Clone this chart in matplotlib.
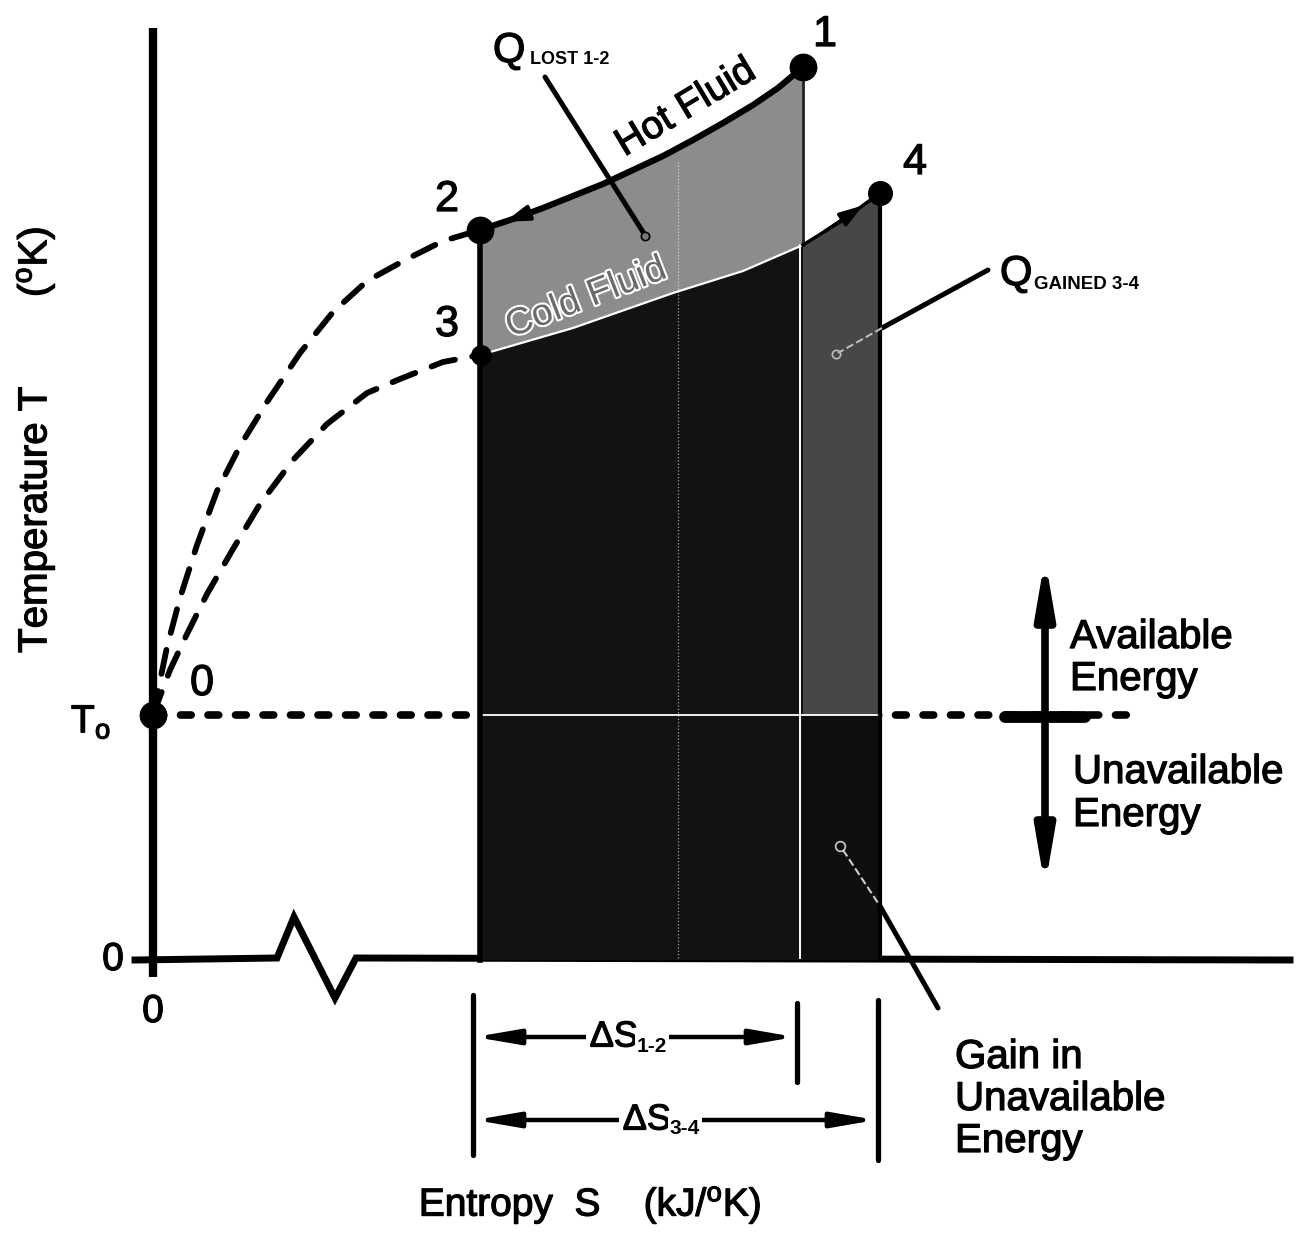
import matplotlib
matplotlib.use('Agg')
import matplotlib.pyplot as plt
import matplotlib.patheffects as pe
import numpy as np

plt.rcParams['font.family'] = ['Liberation Sans', 'DejaVu Sans']
plt.rcParams['mathtext.fontset'] = 'custom'
plt.rcParams['mathtext.rm'] = 'Liberation Sans'
plt.rcParams['mathtext.it'] = 'Liberation Sans'
plt.rcParams['mathtext.bf'] = 'Liberation Sans:bold'

# diagram units: S measured from the T axis, T measured from absolute zero
state_labels = ['0', '1', '2', '3', '4']
state_s = [0, 650, 327, 328, 727]
state_t = [245, 893, 730, 605, 767]
state_size = [19, 19, 19, 14, 17]

t_env = 245  # T_o, environment temperature

hot_s = [327, 360, 390, 420, 450, 480, 510, 540, 570, 600, 625, 650]
hot_t = [730, 741, 752, 764, 776, 790, 804, 820, 837, 855, 872, 893]

cold_s = [327, 420, 520, 590, 650, 690, 727]
cold_t = [605, 632, 667, 689, 715, 740, 767]

# reversible paths from the dead state 0 up to 2 and 3
path02_s = [0, 14, 27, 44, 64, 87, 114, 147, 180, 214, 254, 290, 327]
path02_t = [245, 313, 362, 415, 469, 514, 558, 607, 648, 679, 701, 719, 730]
path03_s = [0, 17, 34, 54, 80, 107, 140, 174, 214, 247, 290, 327]
path03_t = [245, 290, 326, 366, 411, 456, 500, 536, 567, 581, 598, 605]

# S axis with the break symbol
s_axis_s = [-18, 124, 141, 182, 203, 1137]
s_axis_t = [0, 2, 43, -38, 2, 0]

fig = plt.figure(figsize=(12.97, 12.35), dpi=100)
ax = fig.add_axes([0, 0, 1, 1])
ax.set_xlim(-153, 1144)
ax.set_ylim(-275, 960)
ax.axis('off')

heavy = [pe.withStroke(linewidth=0.9, foreground='black')]

hot_s = np.array(hot_s)
hot_t = np.array(hot_t)
cold_s = np.array(cold_s)
cold_t = np.array(cold_t)
s1 = state_s[1]
s4 = state_s[4]
s2 = state_s[2]
t_cold_at_s1 = np.interp(s1, cold_s, cold_t)

# shaded areas
lo = cold_s <= s1
hi = cold_s >= s1
ax.fill(np.r_[hot_s, cold_s[lo][::-1]], np.r_[hot_t, cold_t[lo][::-1]],
        color='#8c8c8c', lw=0, zorder=2)
ax.fill(np.r_[cold_s[lo], s1, s2], np.r_[cold_t[lo], 0, 0],
        color='#121212', lw=0, zorder=2)
ax.fill(np.r_[cold_s[hi], s4, s1], np.r_[cold_t[hi], t_env, t_env],
        color='#474747', lw=0, zorder=2)
ax.fill([s1, s4, s4, s1], [t_env, t_env, 0, 0], color='#0e0e0e', lw=0, zorder=2)

# light seams inside the shading
ax.plot([s2 + 3, s4 - 3], [t_env, t_env], color='white', lw=1.3, zorder=3)
ax.plot([s1 - 3, s1 - 3], [2, t_cold_at_s1], color='white', lw=1.4, zorder=3)
ax.plot([525, 525], [2, 800], color='white', lw=0.9, ls=':', alpha=0.6, zorder=3)

# edges
ax.plot([s2, s2], [0, state_t[2]], color='k', lw=4, zorder=4)
ax.plot([s4, s4], [0, state_t[4]], color='k', lw=3, zorder=4)
ax.plot([s1, s1], [t_cold_at_s1, state_t[1]], color='#222222', lw=2, zorder=4)
ax.plot(hot_s, hot_t, color='k', lw=4.5, zorder=5, solid_capstyle='round')
ax.plot(cold_s[lo], cold_t[lo], color='white', lw=1.6, zorder=5)
ax.plot(cold_s[hi], cold_t[hi], color='k', lw=2.5, zorder=5)

# flow direction arrows
ax.annotate('', xy=(352, np.interp(352, hot_s, hot_t)), xytext=(390, np.interp(390, hot_s, hot_t)),
            arrowprops=dict(arrowstyle='-|>,head_length=1.4,head_width=0.45', color='k', lw=3,
                            shrinkA=0, shrinkB=0), zorder=6)
ax.annotate('', xy=(710, np.interp(710, cold_s, cold_t)), xytext=(672, np.interp(672, cold_s, cold_t)),
            arrowprops=dict(arrowstyle='-|>,head_length=1.4,head_width=0.45', color='k', lw=2.5,
                            shrinkA=0, shrinkB=0), zorder=6)

# axes
ax.plot([0, 0], [-17, 932], color='k', lw=6, zorder=4, solid_capstyle='butt')
ax.plot(s_axis_s, s_axis_t, color='k', lw=5, zorder=1, solid_joinstyle='miter')
ax.plot([0, 974], [t_env, t_env], color='k', lw=5.5, ls=(0, (1.4, 2.2)),
        dash_capstyle='round', zorder=1)

# dashed paths from state 0
for ps, pt in [(path02_s, path02_t), (path03_s, path03_t)]:
    ax.plot(ps, pt, color='k', lw=4.2, ls=(0, (4.2, 3.0)), dash_capstyle='round', zorder=4)

# state points
for lab, s, t, ms in zip(state_labels, state_s, state_t, state_size):
    ax.plot(s, t, 'o', color='k', ms=ms, zorder=7)

num_kw = dict(fontsize=31, ha='center', va='center', path_effects=heavy)
ax.text(672, 925, '1', **num_kw)
ax.text(294, 760, '2', **num_kw)
ax.text(294, 635, '3', **num_kw)
ax.text(762, 797, '4', **num_kw)
ax.text(49, 276, '0', **num_kw)

ax.text(-40, 0, '0', fontsize=28, ha='center', va='center', path_effects=heavy)
ax.text(0, -52, '0', fontsize=28, ha='center', va='center', path_effects=heavy)
ax.text(-62, 238, r'T$_\mathregular{o}$', fontsize=28, ha='center', va='center',
        path_effects=heavy)

# curve labels
ax.text(533, 852, 'Hot Fluid', fontsize=28, rotation=31, ha='center', va='center', zorder=8,
        path_effects=heavy)
ax.text(433, 662, 'Cold Fluid', fontsize=27, rotation=21, ha='center', va='center',
        color='#6a6a6a', zorder=8,
        path_effects=[pe.Stroke(linewidth=3, foreground='white'), pe.Normal()])

# Q lost
ax.text(340, 898, 'Q', fontsize=30, ha='left', va='baseline', path_effects=heavy)
ax.text(377, 896, 'LOST 1-2', fontsize=13, fontweight='bold', ha='left', va='baseline')
ax.plot([392, 490], [883, 728], color='k', lw=3.6, solid_capstyle='round', zorder=6)
ax.plot(492, 724, 'o', ms=6, mfc='#777777', mec='k', mew=1.2, zorder=7)

# Q gained
ax.text(847, 675, 'Q', fontsize=30, ha='left', va='baseline', path_effects=heavy)
ax.text(881, 671, 'GAINED 3-4', fontsize=13.5, fontweight='bold', ha='left', va='baseline')
ax.plot([835, 729], [690, 632], color='k', lw=3.6, solid_capstyle='round', zorder=6)
ax.plot([729, 685], [632, 607], color='#bbbbbb', lw=1.5, ls='--', zorder=6)
ax.plot(683, 606, 'o', ms=6, mfc='none', mec='#bbbbbb', mew=1.2, zorder=7)

# available / unavailable energy marker
ax.annotate('', xy=(892, 402), xytext=(892, 73),
            arrowprops=dict(arrowstyle='<|-|>,head_length=3.2,head_width=0.55', color='k', lw=5.5,
                            shrinkA=0, shrinkB=0), zorder=6)
ax.plot([852, 932], [243, 243], color='k', lw=8.5, solid_capstyle='round', zorder=6)
txt_kw = dict(fontsize=29, ha='left', va='baseline', path_effects=heavy)
ax.text(917, 312, 'Available', **txt_kw)
ax.text(917, 270, 'Energy', **txt_kw)
ax.text(920, 177, 'Unavailable', **txt_kw)
ax.text(920, 134, 'Energy', **txt_kw)

# gain in unavailable energy
ax.text(802, -108, 'Gain in', **txt_kw)
ax.text(802, -150, 'Unavailable', **txt_kw)
ax.text(802, -192, 'Energy', **txt_kw)
ax.plot(687, 114, 'o', ms=7, mfc='none', mec='#cccccc', mew=1.2, zorder=7)
ax.plot([690, 727], [110, 54], color='#cccccc', lw=1.5, ls='--', zorder=6)
ax.plot([727, 785], [54, -48], color='k', lw=3.6, solid_capstyle='round', zorder=6)

# entropy change brackets
for s, t0, t1 in [(320, -35, -195), (644, -43, -122), (725, -40, -200)]:
    ax.plot([s, s], [t0, t1], color='k', lw=3.8, solid_capstyle='round')

dim_kw = dict(arrowstyle='<|-|>,head_length=2.6,head_width=0.45', color='k', lw=3.2,
              shrinkA=0, shrinkB=0)
ax.annotate('', xy=(322, -77), xytext=(642, -77), arrowprops=dim_kw)
ax.annotate('', xy=(322, -160), xytext=(723, -160), arrowprops=dim_kw)
box = dict(boxstyle='square,pad=0.1', fc='white', ec='none')
ax.text(485, -77, 'ΔS', fontsize=26, ha='right', va='center', bbox=box, zorder=8,
        path_effects=heavy)
ax.text(484, -86, '1-2', fontsize=15, fontweight='bold', ha='left', va='center', bbox=box, zorder=8)
ax.text(518, -160, 'ΔS', fontsize=26, ha='right', va='center', bbox=box, zorder=8,
        path_effects=heavy)
ax.text(517, -169, '3-4', fontsize=15, fontweight='bold', ha='left', va='center', bbox=box, zorder=8)

# axis titles
ax.text(437, -245, r'Entropy  S    (kJ/$^\mathregular{o}$K)', fontsize=28, ha='center', va='center',
        path_effects=heavy)
ax.text(-118, 520, r'Temperature T        ($^\mathregular{o}$K)', fontsize=29, rotation=90,
        ha='center', va='center', path_effects=heavy)

fig.savefig('out.png', dpi=100)
